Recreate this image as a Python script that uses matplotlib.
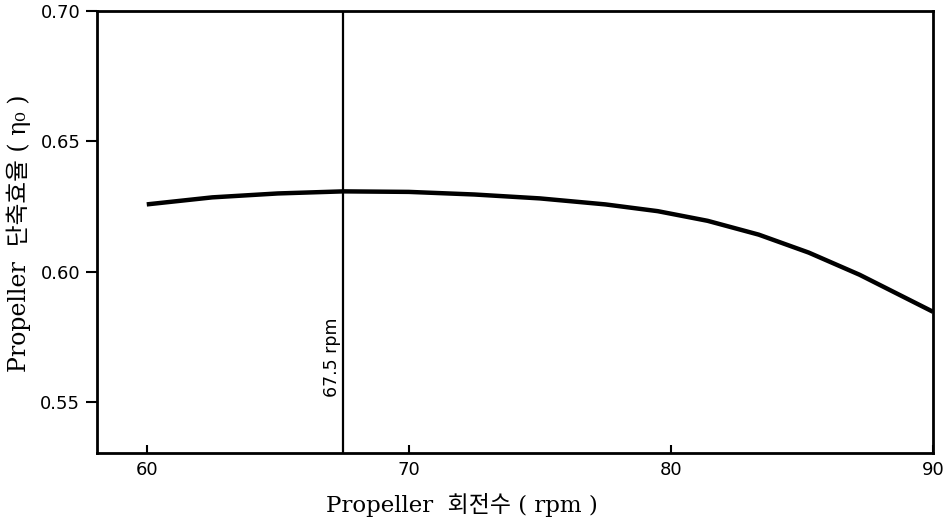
import matplotlib
matplotlib.use("Agg")
import matplotlib.pyplot as plt

rpm = [60, 62.5, 65, 67.5, 70, 72.5, 75, 77.5, 79.5, 81.4, 83.35, 85.26, 87.2, 90]
eff = [0.6258, 0.6285, 0.6300, 0.6308, 0.6306, 0.6296, 0.6281, 0.6258, 0.6232,
       0.6195, 0.6142, 0.6073, 0.5988, 0.5846]
xticks = [60, 70, 80, 90]
yticks = [0.55, 0.60, 0.65, 0.70]
ref_rpm = 67.5

fig = plt.figure(figsize=(9.47, 5.2), dpi=100)
ax = fig.add_axes([0.1024, 0.1288, 0.8828, 0.85])
ax.plot(rpm, eff, color="black", lw=3.2, solid_capstyle="butt", solid_joinstyle="round")
ax.axvline(ref_rpm, color="black", lw=1.6)
ax.text(ref_rpm - 0.08, 0.5673, "67.5 rpm", rotation=90, ha="right", va="center",
        fontsize=12.5, family="DejaVu Sans")

ax.set_xlim(58.1, 90)
ax.set_ylim(0.5304, 0.70)
ax.set_xticks(xticks)
ax.set_yticks(yticks)
ax.set_xticklabels([str(v) for v in xticks])
ax.set_yticklabels(["%.2f" % v for v in yticks])
ax.tick_params(axis="x", direction="in", length=6, width=1.5, labelsize=13, pad=6)
ax.tick_params(axis="y", direction="out", length=8, width=1.5, labelsize=13, pad=4)
for s in ax.spines.values():
    s.set_linewidth(2)

fam = ["DejaVu Serif", "Noto Sans CJK KR"]
fig.text(0.5 * (318 + 605) / 947, 1 - 505 / 520, "Propeller  회전수 ( rpm )",
         fontsize=16.5, family=fam, ha="center", va="center")
fig.text(19 / 947, 1 - 233 / 520, "Propeller  단축효율 ( η₀ )",
         fontsize=17, family=fam, ha="center", va="center", rotation=90)

fig.savefig("out.png", dpi=100)
